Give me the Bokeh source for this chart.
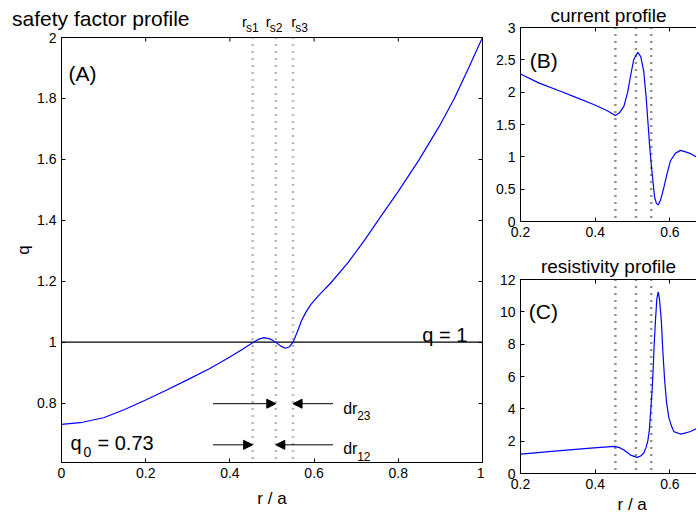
from bokeh.plotting import figure
from bokeh.models import (Range1d, FixedTicker, LinearAxis, Label, Span, Arrow,
                          NormalHead, CustomJSTickFormatter, Title)
from bokeh.layouts import row, column
from bokeh.embed import file_html
from bokeh.resources import INLINE

FONT = "Liberation Sans"

# ---------------- data ----------------
r_q = [0, 0.05, 0.1, 0.15, 0.2, 0.25, 0.3, 0.35, 0.4, 0.43, 0.454, 0.467, 0.481,
       0.495, 0.509, 0.521, 0.532, 0.542, 0.55, 0.56, 0.57, 0.58, 0.592, 0.61,
       0.64, 0.68, 0.72, 0.752, 0.8, 0.85, 0.9, 0.933, 0.967, 1.0]
q = [0.73, 0.737, 0.752, 0.779, 0.81, 0.843, 0.877, 0.912, 0.951, 0.977, 0.998,
     1.009, 1.015, 1.011, 1.0, 0.987, 0.98, 0.985, 1.0, 1.033, 1.07, 1.097, 1.123,
     1.152, 1.195, 1.26, 1.335, 1.4, 1.495, 1.6, 1.715, 1.8, 1.9, 2.0]

r_j = [0.2, 0.25, 0.307, 0.35, 0.396, 0.43, 0.454, 0.465, 0.477, 0.487, 0.4945,
       0.503, 0.514, 0.522, 0.53, 0.536, 0.541, 0.546, 0.55, 0.555, 0.559, 0.564,
       0.5687, 0.575, 0.584, 0.592, 0.6016, 0.614, 0.628, 0.64, 0.655, 0.676]
j = [2.28, 2.14, 2.015, 1.915, 1.81, 1.72, 1.64, 1.68, 1.785, 2.0, 2.246, 2.5,
     2.615, 2.55, 2.32, 1.95, 1.55, 1.15, 0.89, 0.6, 0.375, 0.28, 0.257, 0.33,
     0.53, 0.73, 0.94, 1.05, 1.1, 1.08, 1.05, 0.98]

r_eta = [0.2, 0.307, 0.396, 0.452, 0.465, 0.477, 0.4945, 0.512, 0.522, 0.53,
         0.536, 0.541, 0.545, 0.548, 0.552, 0.555, 0.558, 0.5614, 0.565, 0.5687,
         0.572, 0.577, 0.581, 0.586, 0.591, 0.597, 0.604, 0.6105, 0.628, 0.64,
         0.655, 0.676]
eta = [1.2, 1.41, 1.58, 1.68, 1.6, 1.45, 1.14, 1.0, 1.08, 1.27, 1.6, 2.03, 2.7,
       3.68, 5.0, 6.37, 8.0, 9.47, 10.8, 11.23, 10.8, 9.47, 7.6, 5.75, 4.4, 3.47,
       2.95, 2.59, 2.44, 2.5, 2.6, 2.82]

r_s = [0.454, 0.509, 0.55]
r_s_names = ["s1", "s2", "s3"]
q0 = 0.73
q_ref = 1.0

a_xticks = [0.0, 0.2, 0.4, 0.6, 0.8, 1.0]
a_xlabels = ["0", "0.2", "0.4", "0.6", "0.8", "1"]
a_yticks = [0.8, 1.0, 1.2, 1.4, 1.6, 1.8, 2.0]
a_ylabels = ["0.8", "1", "1.2", "1.4", "1.6", "1.8", "2"]
bc_xticks = [0.2, 0.4, 0.6, 0.8]
bc_xlabels = ["0.2", "0.4", "0.6", "0.8"]
b_yticks = [0.0, 0.5, 1.0, 1.5, 2.0, 2.5, 3.0]
b_ylabels = ["0", "0.5", "1", "1.5", "2", "2.5", "3"]
c_yticks = [0, 2, 4, 6, 8, 10, 12]
c_ylabels = ["0", "2", "4", "6", "8", "10", "12"]

BLUE = "#0000ff"

# ---------------- geometry ----------------
A_X0, A_X1, A_Y0, A_Y1 = 0.0, 1.0, 0.605, 2.0
A_BL, A_FW, A_BR = 61, 421, 2
A_HEAD, A_BT, A_FH, A_BB = 32, 5, 425, 54
A_W = A_BL + A_FW + A_BR
SX = A_FW / (A_X1 - A_X0)
SY = A_FH / (A_Y1 - A_Y0)
TICK = 4

BC_BL, BC_FW = 36, 176
BC_W = BC_BL + BC_FW
BC_X0 = 0.2
BC_X1 = BC_X0 + BC_FW / 373.5


def style_axis(ax, ticks, labels):
    ax.ticker = FixedTicker(ticks=ticks)
    ax.major_label_overrides = dict(zip(ticks, labels))
    ax.major_tick_in = TICK
    ax.major_tick_out = 0
    ax.minor_tick_line_color = None
    ax.axis_line_color = "black"
    ax.major_tick_line_color = "black"
    ax.major_label_text_font = FONT
    ax.major_label_text_font_size = "14px"
    ax.major_label_text_color = "black"
    ax.major_label_standoff = 5


def mirror(p, ticks, side):
    ax = LinearAxis(ticker=FixedTicker(ticks=ticks),
                    formatter=CustomJSTickFormatter(code="return ''"),
                    major_label_text_font_size="0px", major_label_standoff=0,
                    axis_label_standoff=0,
                    major_tick_in=TICK, major_tick_out=0,
                    minor_tick_line_color=None, axis_line_color="black",
                    major_tick_line_color="black")
    p.add_layout(ax, side)


def lab(p, x, y, text, size, align="left", baseline="alphabetic", x_offset=0):
    p.add_layout(Label(x=x, y=y, text=text, text_font=FONT, text_font_size=size,
                       text_align=align, text_baseline=baseline, x_offset=x_offset,
                       text_color="black"))


def base(p):
    p.xgrid.visible = False
    p.ygrid.visible = False
    p.background_fill_color = "white"
    p.border_fill_color = "white"


def set_title(p, text, size, standoff):
    p.title.text = text
    p.title.align = "center"
    p.title.standoff = standoff
    p.title.text_font = FONT
    p.title.text_font_size = size
    p.title.text_font_style = "normal"
    p.title.text_color = "black"


# screen row (from the top of the page) -> q value, for the strip above (A)
def q_at_row(y_px):
    return A_Y1 + (A_HEAD + A_BT + 1 - y_px) / SY


# ---------------- header strip above (A): title and r_s labels ----------------
hA = figure(width=A_W, height=A_HEAD, title=None,
            x_range=Range1d(A_X0, A_X1),
            y_range=Range1d(q_at_row(A_HEAD), q_at_row(0)),
            output_backend="svg", toolbar_location=None,
            min_border_left=A_BL, min_border_right=A_BR,
            min_border_top=0, min_border_bottom=0, x_axis_location=None)
base(hA)
hA.outline_line_color = None
title_y = q_at_row(17.5)
hy = hA.left[0]
hy.ticker = FixedTicker(ticks=[title_y])
hy.major_label_overrides = {title_y: "safety factor profile"}
hy.axis_line_color = None
hy.major_tick_line_color = None
hy.minor_tick_line_color = None
hy.major_tick_in = 0
hy.major_tick_out = 0
hy.major_label_standoff = -128
hy.major_label_text_font = FONT
hy.major_label_text_font_size = "21px"
hy.major_label_text_color = "black"
for xl, name in zip([0.429, 0.485, 0.546], r_s_names):
    lab(hA, xl, q_at_row(20.5), "r", "15px")
    lab(hA, xl, q_at_row(27.5), name, "12px", x_offset=4)

# ---------------- (A) safety factor ----------------
pA = figure(width=A_W, height=A_BT + A_FH + A_BB, title=None,
            x_range=Range1d(A_X0, A_X1), y_range=Range1d(A_Y0, A_Y1),
            output_backend="svg", toolbar_location=None,
            min_border_left=A_BL, min_border_right=A_BR, min_border_top=A_BT,
            min_border_bottom=A_BB)
base(pA)
pA.outline_line_color = "black"
xa = pA.below[0]
ya = pA.left[0]
style_axis(xa, a_xticks, a_xlabels)
style_axis(ya, a_yticks, a_ylabels)
xa.axis_label = "r / a"
ya.axis_label = "q"
for ax, st in ((xa, 8), (ya, 1)):
    ax.axis_label_text_font = FONT
    ax.axis_label_text_font_size = "17px"
    ax.axis_label_text_font_style = "normal"
    ax.axis_label_text_color = "black"
    ax.axis_label_standoff = st
mirror(pA, a_yticks, "right")
# inward tick marks along the top edge of the box
pA.segment(x0=a_xticks, y0=[A_Y1] * len(a_xticks), x1=a_xticks,
           y1=[A_Y1 - TICK / SY] * len(a_xticks), line_color="black", line_width=1)

for rs in r_s:
    pA.add_layout(Span(location=rs, dimension="height", line_color="#707070",
                       line_dash="1 6", line_width=2.5))
pA.line([A_X0, A_X1], [q_ref, q_ref], line_color="black", line_width=1.2)
pA.line(r_q, q, line_color=BLUE, line_width=1.2)

head = dict(size=9, fill_color="black", line_color="black")
pA.add_layout(Arrow(x_start=0.36, y_start=0.798, x_end=r_s[1], y_end=0.798,
                    end=NormalHead(**head), line_color="black", line_width=1))
pA.add_layout(Arrow(x_start=0.645, y_start=0.798, x_end=r_s[2], y_end=0.798,
                    end=NormalHead(**head), line_color="black", line_width=1))
pA.add_layout(Arrow(x_start=0.36, y_start=0.663, x_end=r_s[0], y_end=0.663,
                    end=NormalHead(**head), line_color="black", line_width=1))
pA.add_layout(Arrow(x_start=0.645, y_start=0.663, x_end=r_s[1], y_end=0.663,
                    end=NormalHead(**head), line_color="black", line_width=1))

lab(pA, 0.0166, 1.883, "(A)", "21px")
lab(pA, 0.857, 1.022, "q = 1", "20px")
lab(pA, 0.0214, 0.6675, "q", "20px")
lab(pA, 0.0214, 0.639, "0", "14px", x_offset=13)
lab(pA, 0.0214, 0.6675, f"= {q0:.2f}", "20px", x_offset=27)
lab(pA, 0.669, 0.782, "dr", "16px")
lab(pA, 0.669, 0.759, "23", "12px", x_offset=14)
lab(pA, 0.669, 0.650, "dr", "16px")
lab(pA, 0.669, 0.625, "12", "12px", x_offset=14)

# ---------------- (B) current ----------------
pB = figure(width=BC_W, height=246, x_range=Range1d(BC_X0, BC_X1), y_range=Range1d(0, 3),
            output_backend="svg", toolbar_location=None,
            min_border_left=BC_BL, min_border_right=0, min_border_top=27, min_border_bottom=25)
base(pB)
pB.outline_line_color = None
style_axis(pB.below[0], bc_xticks, bc_xlabels)
style_axis(pB.left[0], b_yticks, b_ylabels)
mirror(pB, bc_xticks, "above")
set_title(pB, "current profile", "19px", 4)
for rs in r_s:
    pB.add_layout(Span(location=rs, dimension="height", line_color="#222222",
                       line_dash="1 6", line_width=2.5))
pB.line(r_j, j, line_color=BLUE, line_width=1.2)
lab(pB, 0.225, 2.487, "(B)", "21px")

# ---------------- (C) resistivity ----------------
pC = figure(width=BC_W, height=270, x_range=Range1d(BC_X0, BC_X1), y_range=Range1d(0, 12),
            output_backend="svg", toolbar_location=None,
            min_border_left=BC_BL, min_border_right=0, min_border_top=33, min_border_bottom=43)
base(pC)
pC.outline_line_color = None
style_axis(pC.below[0], bc_xticks, bc_xlabels)
style_axis(pC.left[0], c_yticks, c_ylabels)
mirror(pC, bc_xticks, "above")
set_title(pC, "resistivity profile", "19px", 6)
pC.add_layout(Title(text="r / a", align="left", offset=97, standoff=2,
                    text_font=FONT, text_font_size="17px", text_font_style="normal",
                    text_color="black"), "below")
for rs in r_s:
    pC.add_layout(Span(location=rs, dimension="height", line_color="#222222",
                       line_dash="1 6", line_width=2.5))
pC.line(r_eta, eta, line_color=BLUE, line_width=1.2)
lab(pC, 0.222, 10.02, "(C)", "21px")

layout = row(column(hA, pA, spacing=0), column(pB, pC, spacing=0), spacing=0)
open("out.html", "w").write(file_html(layout, INLINE))
